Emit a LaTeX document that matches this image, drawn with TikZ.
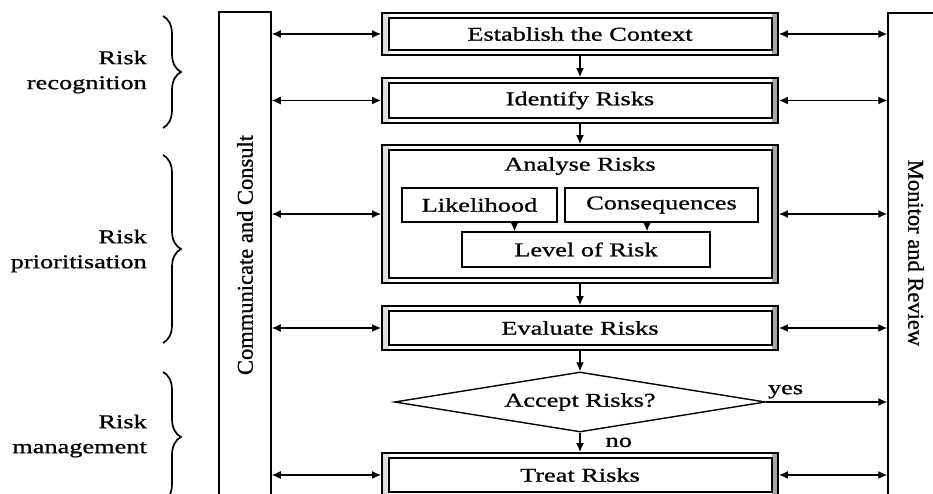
\documentclass[tikz,border=0pt]{standalone}
\usepackage{fontspec}
\setmainfont{Liberation Serif}[FakeStretch=1.35,FakeBold=0.9]
\newfontfamily\barfont{Liberation Serif}[FakeBold=0.9]
\usetikzlibrary{arrows.meta,shapes.geometric,decorations.pathreplacing}

\begin{document}
\begin{tikzpicture}[x=1pt,y=-1pt,
  every node/.style={font=\fontsize{19.5}{25}\selectfont},
  procbox/.style={draw, line width=1.9pt, minimum width=396pt, inner sep=0pt,
    path picture={
      \fill[gray!70] ([xshift=-6pt]path picture bounding box.north east)
        rectangle (path picture bounding box.south east);
      \fill[gray!25] (path picture bounding box.north west)
        rectangle ([xshift=7pt]path picture bounding box.south west);
      \draw[line width=1.1pt]
        ([shift={(7pt,-5pt)}]path picture bounding box.north west) rectangle
        ([shift={(-6pt,5pt)}]path picture bounding box.south east);
    }},
  subbox/.style={draw, line width=1.4pt, inner sep=0pt, minimum height=34pt},
  barbox/.style={draw, line width=1.5pt, inner sep=0pt},
  bartext/.style={font=\barfont\fontsize{22.5}{27}\selectfont, inner sep=0pt},
  grouplabel/.style={align=right, anchor=east, inner sep=0pt},
  tip/.style={Latex[length=9pt,width=8pt]},
  arr/.style={-{Latex[length=9pt,width=8pt]}, line width=1.3pt},
  dbl/.style={{Latex[length=9pt,width=8pt]}-{Latex[length=9pt,width=8pt]}, line width=1.3pt},
  brc/.style={decorate, decoration={brace, amplitude=18pt}, line width=1.7pt},
  edgelabel/.style={inner sep=0pt}
]
\useasboundingbox (0,0) rectangle (933,494);
\clip (0,0) rectangle (933,494);
\fill[white] (0,0) rectangle (933,494);

% side bars
\node[barbox, minimum width=52pt, minimum height=508pt] (cc) at (245,266) {};
\node[bartext, rotate=90] (cctext) at (245,255) {Communicate and Consult};
\node[barbox, minimum width=72pt, minimum height=507pt] (mr) at (924,266.5) {};
\node[bartext, rotate=-90] (mrtext) at (916,253) {Monitor and Review};

% process steps
\node[procbox, minimum height=42pt] (est) at (580,34) {Establish the Context};
\node[procbox, minimum height=45pt] (idf) at (580,100.5) {Identify Risks};
\node[procbox, minimum height=138pt] (ana) at (580,214) {};
\node[inner sep=0pt] (anatitle) at (580,166) {Analyse Risks};
\node[subbox, minimum width=155pt] (lik) at (479.5,205) {Likelihood};
\node[subbox, minimum width=193pt] (con) at (661.5,205) {Consequences};
\node[subbox, minimum width=248pt, minimum height=35pt] (lev) at (586,249.5) {Level of Risk};
\node[procbox, minimum height=44pt] (evl) at (580,328) {Evaluate Risks};
\node[diamond, draw, line width=1.4pt, aspect=6.2, inner sep=0pt,
      minimum width=371pt, minimum height=60pt] (acc) at (580,402) {Accept Risks?};
\node[procbox, minimum height=44pt] (trt) at (580,475) {Treat Risks};

% main flow
\draw[arr] (est.south) -- (idf.north);
\draw[arr] (idf.south) -- (ana.north);
\draw[arr] ([xshift=35pt]lik.south) -- ([xshift=35pt]lik.south |- lev.north);
\draw[arr] ([xshift=-14.5pt]con.south) -- ([xshift=-14.5pt]con.south |- lev.north);
\draw[arr] (ana.south) -- (evl.north);
\draw[arr] (evl.south) -- (acc.north);
\draw[arr] (acc.south) -- (trt.north)
  node[edgelabel, pos=0.5, right=25pt] {no};
\draw[arr] (acc.east) -- (mr.west |- acc.east)
  node[edgelabel, pos=0.16, above=3pt] {yes};

% links to the side bars
\foreach \s in {est,idf,ana,evl,trt}{
  \draw[dbl] (cc.east |- \s.west) -- (\s.west);
  \draw[dbl] (\s.east) -- (mr.west |- \s.east);
}

% phase braces
\draw[brc] (163,16) -- (163,128);
\draw[brc] (163,155) -- (163,343);
\draw[brc] (163,372) -- (163,502);
\node[grouplabel] (g1) at (147,72) {Risk\\recognition};
\node[grouplabel] (g2) at (147,251) {Risk\\prioritisation};
\node[grouplabel] (g3) at (147,436) {Risk\\management};
\end{tikzpicture}
\end{document}
